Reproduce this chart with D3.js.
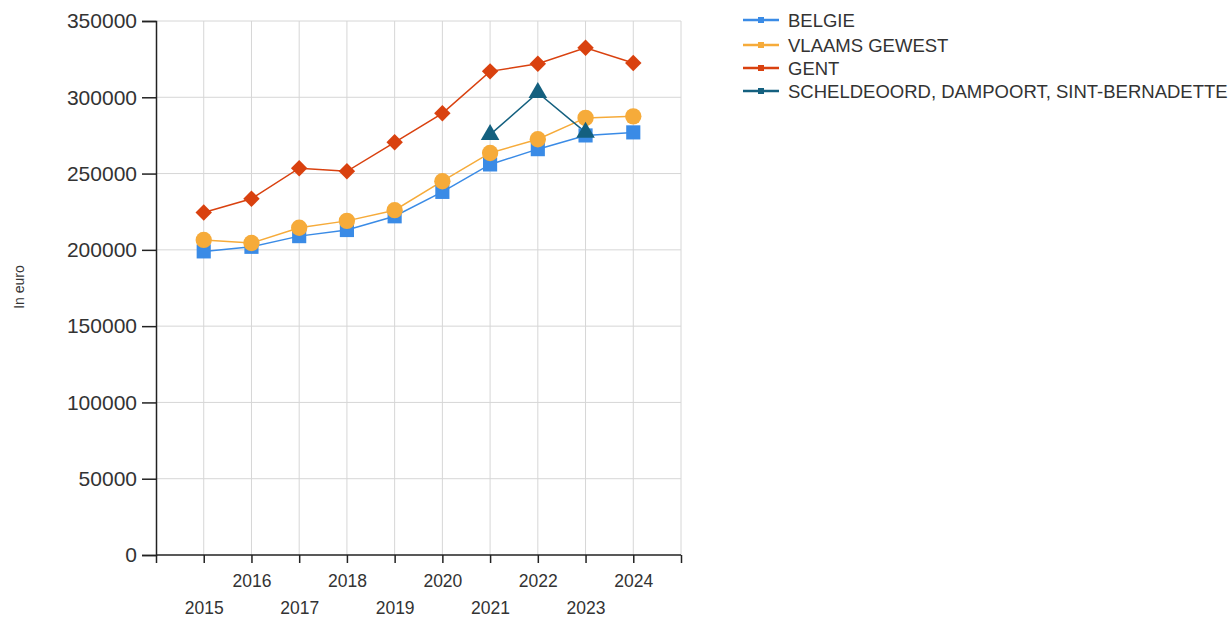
<!DOCTYPE html>
<html>
<head>
<meta charset="utf-8">
<script src="https://cdn.jsdelivr.net/npm/d3@7"></script>
<style>
  html, body { margin: 0; padding: 0; background: #fff; }
  svg { display: block; font-family: "Liberation Sans", Arial, sans-serif; }
</style>
</head>
<body>
<svg id="chart" width="1232" height="619"></svg>
<script>
const years = [2015, 2016, 2017, 2018, 2019, 2020, 2021, 2022, 2023, 2024];
const belgie = [199000, 202000, 209000, 213000, 222000, 238000, 256000, 266000, 275000, 277000];
const vlaams = [206500, 204500, 214500, 219000, 226000, 245000, 263500, 272500, 286500, 287500];
const gent = [224500, 233500, 253500, 251500, 270500, 289500, 317000, 322000, 332500, 322500];
const scheldeYears = [2021, 2022, 2023];
const schelde = [275500, 303000, 277000];
const yTicks = [0, 50000, 100000, 150000, 200000, 250000, 300000, 350000];
const seriesNames = ["BELGIE", "VLAAMS GEWEST", "GENT", "SCHELDEOORD, DAMPOORT, SINT-BERNADETTE"];
const seriesColors = ["#3a8be6", "#f6ab3a", "#d9410f", "#14607f"];
const seriesShapes = ["square", "circle", "diamond", "triangle"];

(function () {
const series = [
  { name: seriesNames[0], xs: years, ys: belgie },
  { name: seriesNames[1], xs: years, ys: vlaams },
  { name: seriesNames[2], xs: years, ys: gent },
  { name: seriesNames[3], xs: scheldeYears, ys: schelde }
];

const svg = d3.select("#chart");
const mLeft = 156, mRight = 681, mTop = 21, mBottom = 555;

const x = d3.scaleLinear().domain([2014, 2025]).range([mLeft, mRight]);
const y = d3.scaleLinear().domain([0, 350000]).range([mBottom, mTop]);

// grid
const grid = svg.append("g");
grid.selectAll("line.h").data(yTicks.filter(d => d > 0)).enter().append("line")
  .attr("x1", mLeft).attr("x2", mRight)
  .attr("y1", d => y(d)).attr("y2", d => y(d))
  .attr("stroke", "#d6d6d6").attr("stroke-width", 1);
grid.selectAll("line.v").data(d3.range(2015, 2026)).enter().append("line")
  .attr("x1", d => x(d)).attr("x2", d => x(d))
  .attr("y1", mTop).attr("y2", mBottom)
  .attr("stroke", "#d6d6d6").attr("stroke-width", 1);

// y axis
const yAxis = svg.append("g").attr("transform", `translate(${mLeft},0)`)
  .call(d3.axisLeft(y).tickValues(yTicks).tickFormat(d3.format("d")).tickSize(14).tickPadding(5));
yAxis.select(".domain").attr("stroke", "#222").attr("stroke-width", 1.5);
yAxis.selectAll(".tick line").attr("stroke", "#222").attr("stroke-width", 1.5);
yAxis.selectAll(".tick text").attr("fill", "#333").style("font-size", "21px")
  .style("font-family", "'Liberation Sans', Arial, sans-serif");

// x axis
const xAxis = svg.append("g").attr("transform", `translate(0,${mBottom})`)
  .call(d3.axisBottom(x).tickValues(d3.range(2014, 2026)).tickSize(8)
    .tickFormat(d => (years.includes(d) ? String(d) : "")));
xAxis.select(".domain").attr("stroke", "#222").attr("stroke-width", 1.5).attr("d", `M${mLeft},0H${mRight}`);
xAxis.selectAll(".tick line").attr("stroke", "#222").attr("stroke-width", 1.5);
xAxis.selectAll(".tick text").attr("fill", "#333").style("font-size", "17.5px")
  .style("font-family", "'Liberation Sans', Arial, sans-serif")
  .attr("dy", null)
  .attr("y", d => (d % 2 === 0 ? 32 : 59));

// y axis title
svg.append("text")
  .attr("transform", "translate(24,287) rotate(-90)")
  .attr("text-anchor", "middle")
  .attr("fill", "#333")
  .style("font-size", "14px")
  .text("In euro");

// markers
function markerPath(shape) {
  if (shape === "diamond") return d3.symbol().type(d3.symbolSquare).size(135)();
  const sym = { square: d3.symbolSquare, circle: d3.symbolCircle, triangle: d3.symbolTriangle }[shape];
  const size = { square: 200, circle: 210, triangle: 150 }[shape];
  return d3.symbol().type(sym).size(size)();
}

const line = d3.line();
series.forEach((s, i) => {
  const pts = s.xs.map((xv, j) => [x(xv), y(s.ys[j])]);
  svg.append("path").attr("d", line(pts)).attr("fill", "none")
    .attr("stroke", seriesColors[i]).attr("stroke-width", 1.5);
});
series.forEach((s, i) => {
  const pts = s.xs.map((xv, j) => [x(xv), y(s.ys[j])]);
  const rot = seriesShapes[i] === "diamond" ? " rotate(45)" : "";
  svg.append("g").selectAll("path").data(pts).enter().append("path")
    .attr("transform", d => `translate(${d[0]},${d[1]})${rot}`)
    .attr("d", markerPath(seriesShapes[i]))
    .attr("fill", seriesColors[i]);
});

// legend
const legend = svg.append("g");
const legendY = [20, 45, 68, 91];
seriesNames.forEach((n, i) => {
  const g = legend.append("g").attr("transform", `translate(0,${legendY[i]})`);
  g.append("line").attr("x1", 743).attr("x2", 779).attr("y1", 0).attr("y2", 0)
    .attr("stroke", seriesColors[i]).attr("stroke-width", 2.5);
  g.append("rect").attr("x", 758).attr("y", -3).attr("width", 6).attr("height", 6).attr("fill", seriesColors[i]);
  g.append("text").attr("x", 788).attr("y", 0).attr("dy", "0.36em")
    .attr("fill", "#333").style("font-size", "18.5px").text(n);
});
})();
</script>
</body>
</html>
